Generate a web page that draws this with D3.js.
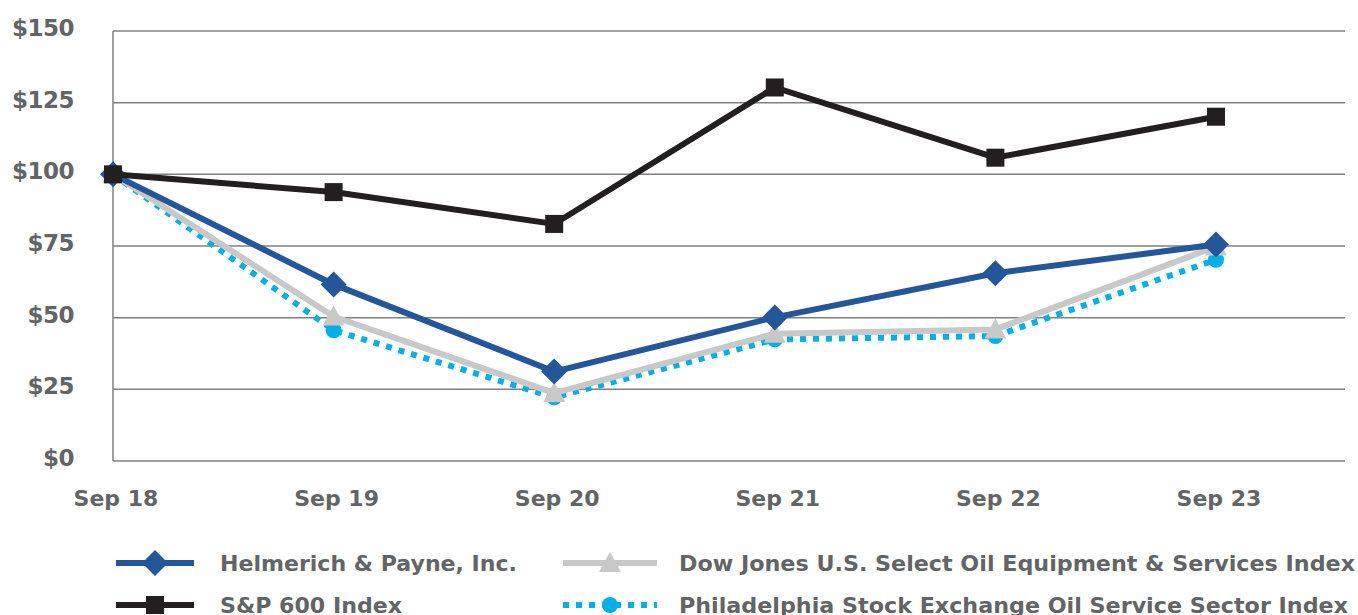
<!DOCTYPE html>
<html>
<head>
<meta charset="utf-8">
<script src="https://cdn.jsdelivr.net/npm/d3@7"></script>
<style>
  body { margin: 0; background: #fff; }
  svg text { font-family: "DejaVu Sans", "Open Sans", sans-serif; font-weight: 700; fill: #636466; }
</style>
</head>
<body>
<div id="area"></div>
<script>
var years = ["Sep 18", "Sep 19", "Sep 20", "Sep 21", "Sep 22", "Sep 23"];
var hpValues = [100, 61.6, 31.2, 50.1, 65.5, 75.5];
var spValues = [100, 93.8, 82.7, 130.3, 105.8, 120.1];
var djValues = [100, 50.4, 23.7, 44.4, 45.9, 74.8];
var phlxValues = [100, 45.6, 22.2, 42.4, 43.6, 70.2];
var yTicks = [0, 25, 50, 75, 100, 125, 150];

var series = [
  {name: "Helmerich & Payne, Inc.", values: hpValues, color: "#245799", marker: "diamond", dash: null},
  {name: "S&P 600 Index", values: spValues, color: "#231f20", marker: "square", dash: null},
  {name: "Dow Jones U.S. Select Oil Equipment & Services Index", values: djValues, color: "#c8c8c8", marker: "triangle", dash: null},
  {name: "Philadelphia Stock Exchange Oil Service Sector Index", values: phlxValues, color: "#00b0e6", marker: "circle", dash: "6,7"}
];

var width = 1358, height = 615;
var plotLeft = 113, plotRight = 1345, plotTop = 31, plotBottom = 461;

var svg = d3.select('#area').append('svg')
            .attr('width', width)
            .attr('height', height);

var x = d3.scaleLinear()
          .domain([0, years.length - 1])
          .range([plotLeft, 1216]);

var y = d3.scaleLinear()
          .domain([0, 150])
          .range([plotBottom, plotTop]);

// grid lines
svg.append('g')
   .selectAll('line')
   .data(yTicks)
   .enter().append('line')
   .attr('x1', plotLeft)
   .attr('x2', plotRight)
   .attr('y1', function(d) { return y(d); })
   .attr('y2', function(d) { return y(d); })
   .attr('stroke', '#808080')
   .attr('stroke-width', 1.5);

svg.append('line')
   .attr('x1', plotLeft).attr('x2', plotLeft)
   .attr('y1', plotTop).attr('y2', plotBottom)
   .attr('stroke', '#808080')
   .attr('stroke-width', 1.5);

// y labels
svg.append('g')
   .selectAll('text')
   .data(yTicks)
   .enter().append('text')
   .attr('x', 74)
   .attr('y', function(d) { return y(d) + 5; })
   .attr('text-anchor', 'end')
   .attr('font-size', 23)
   .attr('letter-spacing', -0.5)
   .text(function(d) { return '$' + d; });

// x labels
svg.append('g')
   .selectAll('text')
   .data(years)
   .enter().append('text')
   .attr('x', function(d, i) { return x(i) + 3; })
   .attr('y', 506)
   .attr('text-anchor', 'middle')
   .attr('font-size', 22)
   .text(function(d) { return d; });

function drawMarker(g, type, cx, cy, color) {
  if (type === 'diamond') {
    g.append('path').attr('d', 'M' + cx + ',' + (cy - 13) + 'L' + (cx + 13) + ',' + cy + 'L' + cx + ',' + (cy + 13) + 'L' + (cx - 13) + ',' + cy + 'Z').attr('fill', color);
  } else if (type === 'square') {
    g.append('rect').attr('x', cx - 9).attr('y', cy - 9).attr('width', 18).attr('height', 18).attr('fill', color);
  } else if (type === 'triangle') {
    g.append('path').attr('d', 'M' + cx + ',' + (cy - 11) + 'L' + (cx + 11) + ',' + (cy + 9) + 'L' + (cx - 11) + ',' + (cy + 9) + 'Z').attr('fill', color);
  } else {
    g.append('circle').attr('cx', cx).attr('cy', cy).attr('r', 8).attr('fill', color);
  }
}

var line = d3.line()
             .x(function(d, i) { return x(i); })
             .y(function(d) { return y(d); });

// draw order: phlx, dow jones, hp, s&p
var order = [3, 2, 0, 1];
order.forEach(function(k) {
  var s = series[k];
  var g = svg.append('g');
  g.append('path')
   .datum(s.values)
   .attr('d', line)
   .attr('fill', 'none')
   .attr('stroke', s.color)
   .attr('stroke-width', 6)
   .attr('stroke-dasharray', s.dash);
  s.values.forEach(function(v, i) {
    drawMarker(g, s.marker, x(i), y(v), s.color);
  });
});

// legend
var legendPos = [
  {lx: 116, tx: 220, ly: 563, tl: 297},
  {lx: 116, tx: 220, ly: 605, tl: 182},
  {lx: 563, tx: 679, ly: 563, tl: 676},
  {lx: 563, tx: 679, ly: 605, tl: 669}
];
var legendLen = [78, 78, 94, 94];
series.forEach(function(s, k) {
  var p = legendPos[k];
  var g = svg.append('g');
  g.append('line')
   .attr('x1', p.lx).attr('x2', p.lx + legendLen[k])
   .attr('y1', p.ly).attr('y2', p.ly)
   .attr('stroke', s.color)
   .attr('stroke-width', 6)
   .attr('stroke-dasharray', s.dash);
  drawMarker(g, s.marker, p.lx + legendLen[k] / 2, p.ly, s.color);
  g.append('text')
   .attr('x', p.tx)
   .attr('y', p.ly + 8)
   .attr('font-size', 21)
   .attr('textLength', p.tl)
   .attr('lengthAdjust', 'spacingAndGlyphs')
   .text(s.name);
});
</script>
</body>
</html>
